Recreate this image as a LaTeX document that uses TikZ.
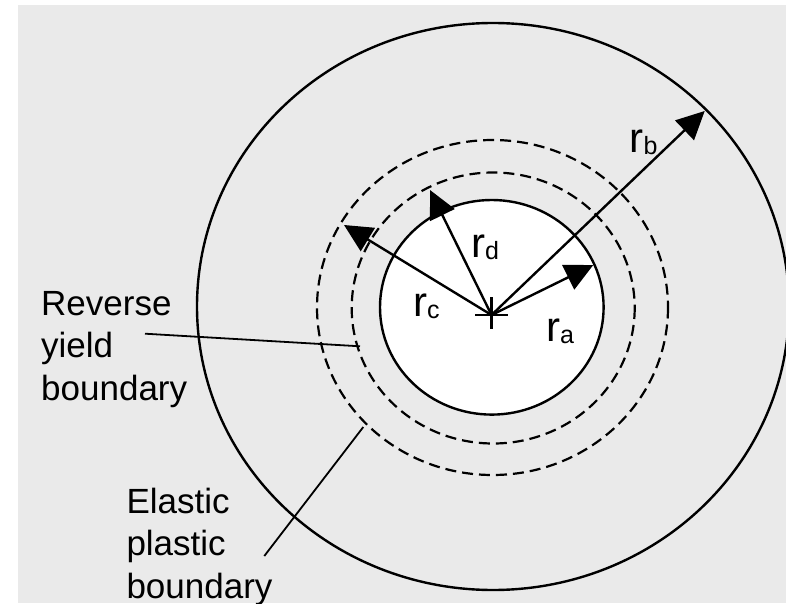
\documentclass[tikz,border=0pt]{standalone}
\usepackage{fontspec}
\setmainfont{Liberation Sans}
\usetikzlibrary{arrows.meta,positioning}
\definecolor{PanelGray}{RGB}{234,234,234}
\newcommand{\rsub}[1]{r\raisebox{-1pt}{\fontsize{12.5}{12.5}\selectfont #1}}

\begin{document}
\begin{tikzpicture}[x=0.5pt,y=-0.5pt,line width=1.2pt,
  radarrow/.style={-{Triangle[length=14pt,width=13.5pt]}},
  yieldline/.style={line width=1.1pt,dash pattern=on 5.5pt off 3pt},
  leader/.style={line width=0.9pt},
  rlabel/.style={anchor=base west,inner sep=0pt,font=\fontsize{21}{21}\selectfont},
  note/.style={anchor=north west,align=left,inner sep=0pt,font=\fontsize{17.5}{21.25}\selectfont}]
  \useasboundingbox (0,0) rectangle (786,604);
  \fill[PanelGray] (18,5) rectangle (786,603);
  % cylinder and boundaries
  \draw (493,306.5) ellipse [x radius=296,y radius=283.5];
  \draw[yieldline] (492.5,307.5) ellipse [x radius=175.5,y radius=167.5];
  \draw[yieldline] (493.2,308) ellipse [x radius=141.5,y radius=135.5];
  \filldraw[fill=white] (491.8,307.3) ellipse [x radius=111.8,y radius=107.3];
  % centre and radii
  \coordinate (O) at (491.5,315);
  \coordinate (A) at (593.3,265);
  \coordinate (B) at (704.7,111);
  \coordinate (C) at (344,225);
  \coordinate (D) at (430,190);
  \draw (O) +(-16.5,0) -- +(16.8,0) (O) +(0,-18) -- +(0,14.3);
  \draw[radarrow] (O) -- (A);
  \draw[radarrow] (O) -- (B);
  \draw[radarrow] (O) -- (C);
  \draw[radarrow] (O) -- (D);
  \node[rlabel] (la) at (545,341) {\rsub{a}};
  \node[rlabel] (lb) at (628.5,152.7) {\rsub{b}};
  \node[rlabel] (lc) at (412,316.7) {\rsub{c}};
  \node[rlabel] (ld) at (470,257) {\rsub{d}};
  % boundary notes
  \node[note] (rev) at (40,290) {Reverse\\yield\\boundary};
  \node[note] (ela) at (125.3,486.7) {Elastic\\plastic\\boundary};
  \coordinate (rev-a) at (145,333.7);
  \coordinate (rev-b) at (360,346.3);
  \coordinate (ela-a) at (264.3,556);
  \coordinate (ela-b) at (363.3,427);
  \draw[leader] (rev-a) -- (rev-b);
  \draw[leader] (ela-a) -- (ela-b);
\end{tikzpicture}
\end{document}
